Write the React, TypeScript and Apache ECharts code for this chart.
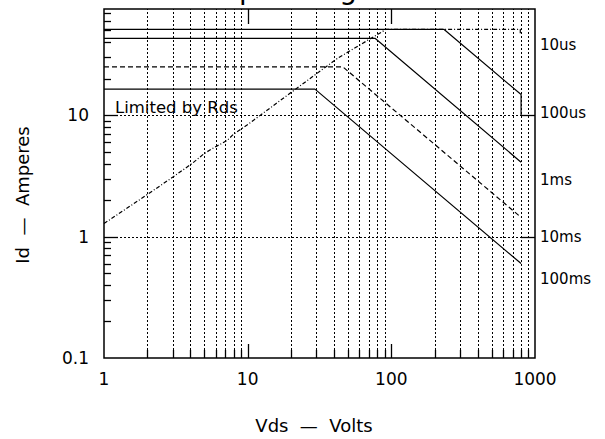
import React, { useEffect, useRef } from 'react';
import * as echarts from 'echarts';

// ---- axis ranges & tick labels ----
const X_MIN = 1;
const X_MAX = 1000;
const Y_MIN = 0.1;
const Y_MAX = 75;
const xTickLabels = ['1', '10', '100', '1000'];
const yTickLabels = ['0.1', '1', '10'];

// ---- grid / tick values ----
const xGridValues = [2, 3, 4, 5, 6, 7, 8, 9, 20, 30, 40, 50, 60, 70, 80, 90, 200, 300, 400, 500, 600, 700, 800, 900];
const xMajorTicks = [10, 100];
const yGridValues = [1, 10];
const yMinorTicks = [0.2, 0.3, 0.4, 0.5, 0.6, 0.7, 0.8, 0.9, 2, 3, 4, 5, 6, 7, 8, 9, 20, 30, 40, 50, 60, 70];

// ---- curves (Vds [V], Id [A]) ----
const curve10us: [number, number][] = [[1, 51], [232, 51], [800, 14.8], [800, 10]];
const curve100us: [number, number][] = [[1, 43], [77, 43], [800, 4.1]];
const curve1ms: [number, number][] = [[1, 25], [46, 25], [800, 1.44]];
const curve10ms: [number, number][] = [[1, 16.4], [29.4, 16.4], [800, 0.6]];
const rdsLimit: [number, number][] = [
  [1, 1.28], [2, 2.22], [3, 3.08], [4.1, 4.0], [5, 4.85], [5.9, 5.45], [7.2, 6.2], [8, 7.0],
  [9.9, 8.3], [11, 9.1], [22, 16.7], [42.5, 29.6], [92, 51], [790, 51], [790, 46],
];

// ---- texts ----
const titleText = 'Safe Operating Area';
const xName = 'Vds  —  Volts';
const yName = 'Id  —  Amperes';
const rdsLabel = 'Limited by Rds';
const pulseLabels = ['10us', '100us', '1ms', '10ms', '100ms'];

const FONT = 'DejaVu Sans';

function labelFor(v: number, labels: string[], offset: number): string {
  const e = Math.log10(v);
  const r = Math.round(e);
  if (Math.abs(e - r) > 1e-6) return '';
  return labels[r + offset] ?? '';
}

const crisp = (p: number) => Math.round(p) + 0.5;

export default function App() {
  const ref = useRef<HTMLDivElement>(null);

  useEffect(() => {
    if (!ref.current) return;
    const chart = echarts.init(ref.current, undefined, { renderer: 'svg' });

    const gridStyle = { stroke: '#000', lineWidth: 1, lineDash: [2, 2] };
    const tickStyle = { stroke: '#000', lineWidth: 1.3 };

    const customLines = (
      name: string,
      data: number[][],
      draw: (api: any) => any,
      z: number
    ) => ({
      type: 'custom',
      name,
      coordinateSystem: 'cartesian2d',
      silent: true,
      z,
      data,
      renderItem: (_p: any, api: any) => draw(api),
    });

    const lineSeries = (data: [number, number][], type: any, width = 1.2) => ({
      type: 'line',
      data,
      symbol: 'none',
      showSymbol: false,
      silent: true,
      z: 5,
      lineStyle: { color: '#000', width, type },
    });

    const pulseY = [45, 113, 180, 237, 279];

    const option: any = {
      animation: false,
      grid: {
        left: 104,
        right: 70,
        top: 9,
        bottom: 81,
        show: true,
        borderColor: '#000',
        borderWidth: 1.5,
        backgroundColor: 'transparent',
      },
      xAxis: {
        type: 'log',
        logBase: 10,
        min: X_MIN,
        max: X_MAX,
        axisLine: { show: false },
        axisTick: { show: false },
        splitLine: { show: false },
        axisLabel: {
          color: '#000',
          fontFamily: FONT,
          fontSize: 17,
          margin: 12,
          formatter: (v: number) => labelFor(v, xTickLabels, 0),
        },
      },
      yAxis: {
        type: 'log',
        logBase: 10,
        min: Y_MIN,
        max: Y_MAX,
        axisLine: { show: false },
        axisTick: { show: false },
        splitLine: { show: false },
        axisLabel: {
          color: '#000',
          fontFamily: FONT,
          fontSize: 17,
          margin: 15,
          showMaxLabel: false,
          formatter: (v: number) => labelFor(v, yTickLabels, 1),
        },
      },
      graphic: [
        {
          type: 'text',
          x: 146,
          y: -11,
          style: { text: titleText, fontFamily: FONT, fontSize: 28, fill: '#000', align: 'left', verticalAlign: 'middle' },
        },
        {
          type: 'text',
          x: 314,
          y: 425,
          style: { text: xName, fontFamily: FONT, fontSize: 18, fill: '#000', align: 'center', verticalAlign: 'middle' },
        },
        {
          type: 'text',
          x: 22,
          y: 195,
          rotation: Math.PI / 2,
          style: { text: yName, fontFamily: FONT, fontSize: 18, fill: '#000', align: 'center', verticalAlign: 'middle' },
        },
        {
          type: 'text',
          x: 115,
          y: 107,
          style: { text: rdsLabel, fontFamily: FONT, fontSize: 16.5, fill: '#000', align: 'left', verticalAlign: 'middle' },
        },
        ...pulseLabels.map((t, i) => ({
          type: 'text',
          x: 540,
          y: pulseY[i],
          style: { text: t, fontFamily: FONT, fontSize: 15, fill: '#000', align: 'left', verticalAlign: 'middle' },
        })),
      ],
      series: [
        customLines('xgrid', xGridValues.map((v) => [v, Y_MIN]), (api) => {
          const v = api.value(0);
          const a = api.coord([v, Y_MIN]);
          const b = api.coord([v, Y_MAX]);
          const x = crisp(a[0]);
          return { type: 'line', shape: { x1: x, y1: a[1], x2: x, y2: b[1] }, style: gridStyle };
        }, 1),
        customLines('ygrid', yGridValues.map((v) => [X_MIN, v]), (api) => {
          const v = api.value(1);
          const a = api.coord([X_MIN, v]);
          const b = api.coord([X_MAX, v]);
          const y = crisp(a[1]);
          return { type: 'line', shape: { x1: a[0], y1: y, x2: b[0], y2: y }, style: gridStyle };
        }, 1),
        customLines('xminor', xGridValues.map((v) => [v, Y_MIN]), (api) => {
          const a = api.coord([api.value(0), Y_MIN]);
          const x = crisp(a[0]);
          return { type: 'line', shape: { x1: x, y1: a[1], x2: x, y2: a[1] - 8 }, style: tickStyle };
        }, 2),
        customLines('xmajor', xMajorTicks.map((v) => [v, Y_MIN]), (api) => {
          const v = api.value(0);
          const a = api.coord([v, Y_MIN]);
          const b = api.coord([v, Y_MAX]);
          const x = crisp(a[0]);
          return {
            type: 'group',
            children: [
              { type: 'line', shape: { x1: x, y1: a[1], x2: x, y2: a[1] - 14 }, style: tickStyle },
              { type: 'line', shape: { x1: x, y1: b[1], x2: x, y2: b[1] + 15 }, style: tickStyle },
            ],
          };
        }, 2),
        customLines('yminor', yMinorTicks.map((v) => [X_MIN, v]), (api) => {
          const a = api.coord([X_MIN, api.value(1)]);
          const y = crisp(a[1]);
          return { type: 'line', shape: { x1: a[0], y1: y, x2: a[0] + 7, y2: y }, style: tickStyle };
        }, 2),
        customLines('ymajor', yGridValues.map((v) => [X_MIN, v]), (api) => {
          const v = api.value(1);
          const a = api.coord([X_MIN, v]);
          const b = api.coord([X_MAX, v]);
          const y = crisp(a[1]);
          return {
            type: 'group',
            children: [
              { type: 'line', shape: { x1: a[0], y1: y, x2: a[0] + 14, y2: y }, style: tickStyle },
              { type: 'line', shape: { x1: b[0] - 14, y1: y, x2: b[0], y2: y }, style: tickStyle },
            ],
          };
        }, 2),
        lineSeries(curve10us, 'solid'),
        lineSeries(curve100us, 'solid'),
        lineSeries(curve1ms, [5, 3]),
        lineSeries(curve10ms, 'solid'),
        lineSeries(rdsLimit, [4, 2, 1, 2]),
      ],
    };

    chart.setOption(option);
    return () => chart.dispose();
  }, []);

  return (
    <div
      ref={ref}
      style={{ position: 'fixed', left: 0, top: 0, width: 605, height: 439, background: '#fff' }}
    />
  );
}
